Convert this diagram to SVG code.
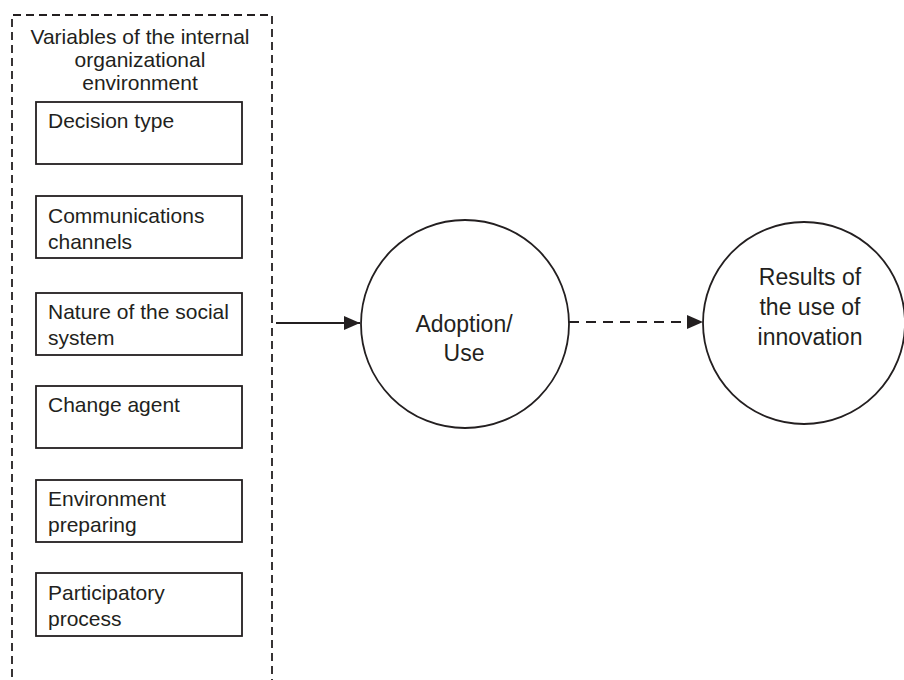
<svg xmlns="http://www.w3.org/2000/svg" width="904" height="680" viewBox="0 0 904 680">
<defs>
<style>
text{font-family:"Liberation Sans",Arial,sans-serif;fill:#231f20}
.t{font-size:21px}
.c{font-size:23px;text-anchor:middle}
.box{fill:#fff;stroke:#231f20;stroke-width:1.8}
.circ{fill:#fff;stroke:#231f20;stroke-width:1.8}
</style>
<marker id="ah" markerWidth="16" markerHeight="14" refX="16" refY="7" orient="auto" markerUnits="userSpaceOnUse"><path d="M0,0 L16,7 L0,14 Z" fill="#231f20"/></marker>
</defs>
<rect width="904" height="680" fill="#fff"/>
<g id="container">
<path d="M12,690 L12,15 L272,15 L272,690" fill="none" stroke="#231f20" stroke-width="1.8" stroke-dasharray="8,5"/>
<text class="t" x="140" y="44" text-anchor="middle">Variables of the internal</text>
<text class="t" x="140" y="67" text-anchor="middle">organizational</text>
<text class="t" x="140" y="90" text-anchor="middle">environment</text>
</g>
<g id="decision"><rect class="box" x="36" y="102" width="206" height="62"/><text class="t" x="48" y="128">Decision type</text></g>
<g id="communications"><rect class="box" x="36" y="196" width="206" height="62"/><text class="t" x="48" y="223">Communications</text><text class="t" x="48" y="249">channels</text></g>
<g id="nature"><rect class="box" x="36" y="293" width="206" height="62"/><text class="t" x="48" y="319">Nature of the social</text><text class="t" x="48" y="345">system</text></g>
<g id="change"><rect class="box" x="36" y="386" width="206" height="62"/><text class="t" x="48" y="412">Change agent</text></g>
<g id="environment"><rect class="box" x="36" y="480" width="206" height="62"/><text class="t" x="48" y="506">Environment</text><text class="t" x="48" y="532">preparing</text></g>
<g id="participatory"><rect class="box" x="36" y="573" width="206" height="63"/><text class="t" x="48" y="600">Participatory</text><text class="t" x="48" y="626">process</text></g>
<g id="adoption"><circle class="circ" cx="465" cy="324" r="104"/><text class="c" x="464" y="332">Adoption/</text><text class="c" x="464" y="361">Use</text></g>
<g id="results"><circle class="circ" cx="804" cy="323" r="101"/><text class="c" x="810" y="285">Results of</text><text class="c" x="810" y="315">the use of</text><text class="c" x="810" y="345">innovation</text></g>
<g id="connectors">
<line x1="276" y1="323" x2="360" y2="323" stroke="#231f20" stroke-width="2" marker-end="url(#ah)"/>
<line x1="569" y1="322" x2="703" y2="322" stroke="#231f20" stroke-width="2" stroke-dasharray="10,7" marker-end="url(#ah)"/>
</g>
</svg>
